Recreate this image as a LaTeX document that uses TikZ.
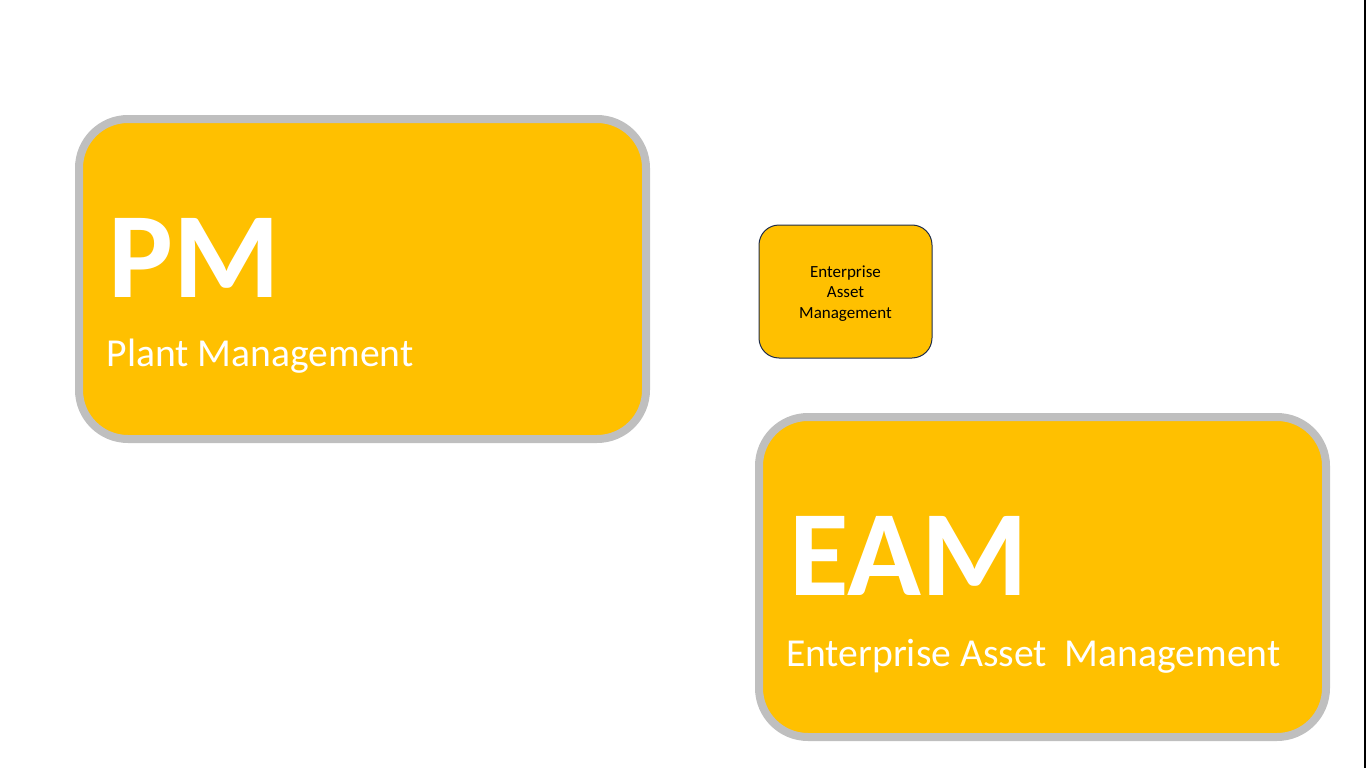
\documentclass[tikz,border=0pt]{standalone}
\usepackage{fontspec}
\setmainfont{Carlito}
\usetikzlibrary{positioning}
\definecolor{tileyellow}{HTML}{FFC000}
\definecolor{tilegray}{HTML}{BFBFBF}
\definecolor{tilenavy}{HTML}{1F2D4A}
\tikzset{
  bigtile/.style={draw=tilegray, line width=8pt, fill=tileyellow, rounded corners=49pt,
    minimum width=567pt, minimum height=320pt, inner sep=0pt},
  smalltile/.style={draw=tilenavy, line width=1pt, fill=tileyellow, rounded corners=20pt,
    minimum width=173pt, minimum height=133pt, inner sep=0pt},
  tiletext/.style={align=center, inner sep=0pt, font=\fontsize{17}{20.7}\selectfont},
  acronym/.style={text=white, anchor=base west, inner sep=0pt,
    font=\fontsize{122}{128}\selectfont\bfseries},
  fullname/.style={text=white, anchor=base west, inner sep=0pt,
    font=\fontsize{39.6}{48}\selectfont}
}

\begin{document}
\begin{tikzpicture}[x=1pt, y=-1pt]
			%%%%% START %%%%%
			\useasboundingbox (0, 0) rectangle (1366, 768);
			
			% plant management tile
			\node[bigtile] (pm) at (362.5, 279) {};
			\node[acronym] (pmtitle) at (108, 297) {PM};
			\node[fullname] (pmname) at (106.5, 366) {Plant Management};
			
			% small tile
			\node[smalltile] (eamsmall) at (845.5, 291.5) {};
			\node[tiletext] (eamsmalltext) at (845.5, 293.5) {Enterprise\\Asset\\Management};
			
			% enterprise asset management tile
			\node[bigtile] (eam) at (1042.5, 577) {};
			\node[acronym] (eamtitle) at (789, 595) {EAM};
			\node[fullname] (eamname) at (786, 666) {Enterprise Asset\ \ Management};
			
			% right edge
			\draw[line width=1.6pt] (1365.2, 0) -- (1365.2, 768);
			%%%%% END %%%%%
\end{tikzpicture}
\end{document}
